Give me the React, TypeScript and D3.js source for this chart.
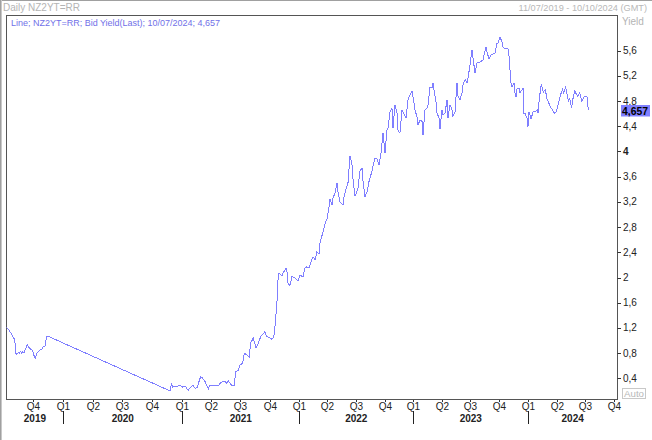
import React from "react";
import * as d3 from "d3";

// NZ 2Y yield (decimal year, yield %)
const data2019: [number, number][] = [
  [2019.524,1.21],[2019.538,1.18],[2019.552,1.14],[2019.566,1.10],[2019.580,1.05],[2019.588,1.03],[2019.594,0.98],[2019.600,0.80],[2019.608,0.78],[2019.622,0.81],[2019.630,0.80],[2019.642,0.83],[2019.650,0.80],[2019.659,0.82],[2019.670,0.81],[2019.687,0.88],[2019.697,0.94],[2019.712,0.89],[2019.726,0.86],[2019.739,0.85],[2019.748,0.80],[2019.756,0.75],[2019.765,0.72],[2019.776,0.79],[2019.790,0.82],[2019.804,0.85],[2019.818,0.85],[2019.832,0.90],[2019.846,0.91],[2019.861,1.07],[2019.869,1.07],
];
const data2020: [number, number][] = [
  [2020.897,0.20],[2020.908,0.31],[2020.919,0.26],[2020.930,0.28],[2020.947,0.26],[2020.966,0.28],[2020.981,0.29],
];
const data2021: [number, number][] = [
  [2021.003,0.26],[2021.023,0.28],[2021.038,0.24],[2021.051,0.21],[2021.072,0.26],[2021.089,0.29],[2021.109,0.24],[2021.128,0.26],[2021.143,0.35],[2021.157,0.43],[2021.174,0.40],[2021.194,0.35],[2021.209,0.29],[2021.222,0.23],[2021.231,0.28],[2021.251,0.29],[2021.280,0.28],[2021.308,0.28],[2021.328,0.33],[2021.346,0.35],[2021.365,0.35],[2021.380,0.32],[2021.393,0.36],[2021.408,0.32],[2021.427,0.28],[2021.444,0.28],[2021.456,0.50],[2021.479,0.53],[2021.493,0.61],[2021.516,0.64],[2021.530,0.80],[2021.550,0.77],[2021.572,0.74],[2021.584,0.96],[2021.607,1.04],[2021.630,0.88],[2021.650,0.96],[2021.670,1.06],[2021.692,1.11],[2021.707,1.14],[2021.721,1.06],[2021.744,1.05],[2021.764,1.02],[2021.778,1.04],[2021.786,1.11],[2021.795,1.27],[2021.809,1.61],[2021.818,1.96],[2021.826,2.07],[2021.852,2.02],[2021.861,2.07],[2021.886,2.15],[2021.895,2.09],[2021.903,1.91],[2021.920,1.87],[2021.937,2.02],[2021.963,1.99],[2021.989,1.94],
];
const data2022: [number, number][] = [
  [2022.006,2.04],[2022.032,2.01],[2022.050,2.15],[2022.067,2.17],[2022.085,2.15],[2022.103,2.25],[2022.120,2.33],[2022.138,2.28],[2022.155,2.41],[2022.173,2.37],[2022.182,2.56],[2022.208,2.72],[2022.225,2.85],[2022.243,2.93],[2022.261,3.12],[2022.269,3.25],[2022.287,3.15],[2022.296,3.26],[2022.313,3.34],[2022.331,3.50],[2022.339,3.36],[2022.357,3.20],[2022.383,3.15],[2022.392,3.28],[2022.410,3.41],[2022.427,3.50],[2022.445,3.93],[2022.462,3.79],[2022.471,3.56],[2022.489,3.29],[2022.506,3.37],[2022.515,3.42],[2022.532,3.69],[2022.550,3.74],[2022.559,3.53],[2022.576,3.28],[2022.594,3.36],[2022.611,3.52],[2022.638,3.69],[2022.646,3.77],[2022.664,3.90],[2022.682,3.88],[2022.699,3.79],[2022.717,3.98],[2022.734,4.29],[2022.752,3.98],[2022.769,4.34],[2022.778,4.37],[2022.796,4.63],[2022.813,4.69],[2022.822,4.37],[2022.839,4.74],[2022.857,4.61],[2022.866,4.34],[2022.883,4.29],[2022.901,4.66],[2022.910,4.63],[2022.936,4.53],[2022.954,4.82],[2022.971,4.90],[2022.989,4.96],[2022.997,4.87],
];
const data2023: [number, number][] = [
  [2023.015,4.66],[2023.032,4.55],[2023.041,4.42],[2023.058,4.50],[2023.076,4.48],[2023.084,4.26],[2023.102,4.66],[2023.119,4.69],[2023.128,4.74],[2023.145,5.02],[2023.163,5.01],[2023.171,5.09],[2023.189,4.88],[2023.197,4.79],[2023.206,4.61],[2023.224,4.53],[2023.232,4.36],[2023.250,4.66],[2023.258,4.58],[2023.276,4.61],[2023.293,4.82],[2023.302,4.53],[2023.319,4.74],[2023.337,4.66],[2023.345,4.56],[2023.363,4.63],[2023.380,5.09],[2023.389,4.87],[2023.406,4.82],[2023.424,4.93],[2023.432,5.06],[2023.450,5.14],[2023.467,5.09],[2023.476,5.17],[2023.493,5.37],[2023.510,5.61],[2023.519,5.48],[2023.537,5.25],[2023.554,5.41],[2023.580,5.42],[2023.606,5.45],[2023.615,5.53],[2023.632,5.66],[2023.641,5.58],[2023.658,5.47],[2023.676,5.53],[2023.693,5.55],[2023.710,5.56],[2023.728,5.72],[2023.736,5.72],[2023.754,5.82],[2023.771,5.74],[2023.780,5.66],[2023.797,5.63],[2023.823,5.63],[2023.832,5.52],[2023.841,5.29],[2023.849,5.09],[2023.858,5.02],[2023.876,5.09],[2023.884,4.93],[2023.893,4.87],[2023.902,4.99],[2023.919,5.01],[2023.928,4.93],[2023.945,4.98],[2023.954,5.01],[2023.958,4.61],[2023.971,4.61],[2023.989,4.53],[2023.997,4.39],
];
const data2024: [number, number][] = [
  [2024.006,4.63],[2024.024,4.52],[2024.042,4.63],[2024.059,4.63],[2024.077,4.66],[2024.086,4.61],[2024.095,4.82],[2024.112,5.06],[2024.121,5.02],[2024.130,4.94],[2024.148,4.98],[2024.165,4.82],[2024.174,4.79],[2024.192,4.71],[2024.210,4.66],[2024.228,4.61],[2024.245,4.63],[2024.263,4.77],[2024.281,4.90],[2024.298,4.98],[2024.307,4.93],[2024.325,5.02],[2024.334,4.94],[2024.352,4.79],[2024.360,4.85],[2024.378,4.69],[2024.387,4.82],[2024.405,4.96],[2024.422,4.90],[2024.431,4.87],[2024.449,4.93],[2024.467,4.79],[2024.475,4.83],[2024.493,4.88],[2024.511,4.87],[2024.518,4.80],[2024.522,4.657],
];

const yTicks = [0.4, 0.8, 1.2, 1.6, 2, 2.4, 2.8, 3.2, 3.6, 4, 4.4, 4.8, 5.2, 5.6];
const lastValue = "4,657";
const titleText = "Daily NZ2YT=RR";
const legendText = "Line; NZ2YT=RR; Bid Yield(Last); 10/07/2024; 4,657";
const rangeText = "11/07/2019 - 10/10/2024 (GMT)";
const axisTitle = "Yield";
const autoText = "Auto";

function toDate(t: number): Date {
  const yr = Math.floor(t);
  const s = Date.UTC(yr, 0, 1);
  const e = Date.UTC(yr + 1, 0, 1);
  return new Date(s + (t - yr) * (e - s));
}

const FONT = "'Liberation Sans', Arial, sans-serif";

export default function App() {
  const W = 652, H = 440;
  const fx0 = 6.5, fy0 = 15.5, fx1 = 617.5, fy1 = 399.5;
  const start = new Date(Date.UTC(2019, 6, 11));
  const end = new Date(Date.UTC(2024, 9, 10));
  const yearStarts = [2020, 2021, 2022, 2023, 2024].map((y) => new Date(Date.UTC(y, 0, 1)));
  const x = d3
    .scaleUtc()
    .domain([start, ...yearStarts, end])
    .range([fx0, 63.3, 182.3, 299.3, 413.3, 528.3, 617]);
  const y = d3.scaleLinear().domain([0.4, 5.6]).range([378.3, 50.7]);

  const all = [...data2019, ...data2020, ...data2021, ...data2022, ...data2023, ...data2024];
  const line = d3
    .line<[number, number]>()
    .x((d) => x(toDate(d[0])))
    .y((d) => y(d[1]));

  const quarters = d3.utcMonth.every(3)!.range(start, end);
  const years = d3.utcYear.range(d3.utcYear.floor(start), end);
  const fmt = (v: number) => String(+v.toFixed(1)).replace(".", ",");

  return (
    <svg width={W} height={H} style={{ position: "absolute", left: 0, top: 0, background: "#fff" }} fontFamily={FONT}>
      <rect x={0} y={0} width={W} height={H} fill="#fff" />
      <line x1={0} x2={W} y1={0.5} y2={0.5} stroke="#a0a0a0" />
      <line x1={0.5} x2={0.5} y1={0} y2={H} stroke="#a0a0a0" />
      <line x1={1.5} x2={1.5} y1={0} y2={H} stroke="#c8c8c8" />

      <text x={3} y={10.5} fontSize={10} fill="#b4b4b4" textLength={77} lengthAdjust="spacingAndGlyphs">{titleText}</text>
      <text x={647} y={11} fontSize={9.2} fill="#b8b8b8" textAnchor="end">{rangeText}</text>

      <defs>
        <clipPath id="plotclip">
          <rect x={fx0} y={fy0} width={fx1 - fx0} height={fy1 - fy0} />
        </clipPath>
      </defs>

      <rect x={fx0} y={fy0} width={fx1 - fx0} height={fy1 - fy0} fill="#fff" stroke="#555" strokeWidth={1} />
      <text x={11} y={25.5} fontSize={9.5} fill="#7070e8" textLength={209} lengthAdjust="spacingAndGlyphs">{legendText}</text>
      <text x={622} y={24.5} fontSize={10} fill="#b4b4b4">{axisTitle}</text>

      <g clipPath="url(#plotclip)">
        <path d={line(all) ?? ""} fill="none" stroke="#7f7fff" strokeWidth={1} shapeRendering="crispEdges" />
      </g>

      {yTicks.map((v) => (
        <g key={v}>
          <line x1={fx1} x2={fx1 + 3.5} y1={Math.round(y(v)) + 0.5} y2={Math.round(y(v)) + 0.5} stroke="#333" />
          <text x={623} y={y(v) + 3.5} fontSize={10} fill="#222" fontWeight={v === 4 ? "bold" : "normal"}>{fmt(v)}</text>
        </g>
      ))}

      <rect x={621} y={105} width={29} height={11.5} fill="#8080ff" />
      <text x={622} y={114.5} fontSize={10} fill="#000" fontWeight="bold" textLength={26} lengthAdjust="spacingAndGlyphs">{lastValue}</text>

      <rect x={622.5} y={388.5} width={23} height={10} fill="#fff" stroke="#c8c8c8" />
      <text x={624} y={397} fontSize={9} fill="#b8b8b8" textLength={20} lengthAdjust="spacingAndGlyphs">{autoText}</text>

      {quarters.map((q) => {
        const px = Math.round(x(q)) + 0.5;
        const qn = Math.floor(q.getUTCMonth() / 3) + 1;
        return (
          <g key={q.toISOString()}>
            <line x1={px} x2={px} y1={400} y2={402} stroke="#333" />
            <text x={px} y={410} fontSize={10} textAnchor="middle" fill="#222">{"Q" + qn}</text>
          </g>
        );
      })}

      {yearStarts.map((d) => {
        const px = Math.round(x(d)) + 0.5;
        return <line key={"ys" + d.toISOString()} x1={px} x2={px} y1={411} y2={424} stroke="#222" />;
      })}

      {years.map((yd) => {
        const s = yd < start ? start : yd;
        const nx = d3.utcYear.offset(yd, 1);
        const e = nx > end ? end : nx;
        const cx = (x(s) + x(e)) / 2;
        return (
          <text key={"yl" + yd.toISOString()} x={cx} y={422} fontSize={10} fontWeight="bold" textAnchor="middle" fill="#222">
            {yd.getUTCFullYear()}
          </text>
        );
      })}
    </svg>
  );
}
